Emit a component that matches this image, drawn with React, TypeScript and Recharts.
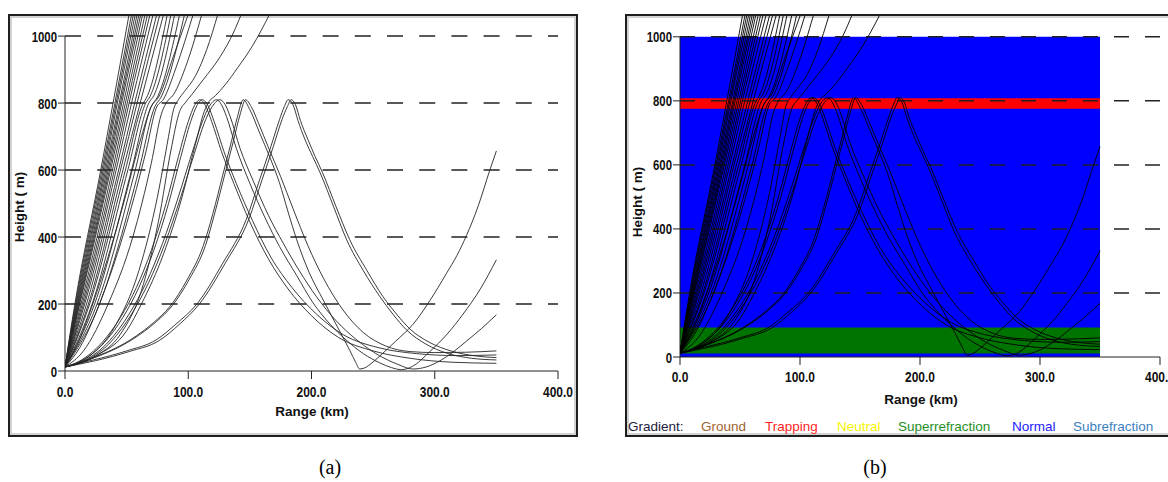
import React from "react";
import {
  LineChart,
  Line,
  XAxis,
  YAxis,
  ReferenceLine,
  ReferenceArea,
} from "recharts";

// axis ticks: height in m, range in km
const heightTicks = [0, 200, 400, 600, 800, 1000];
const gridHeights = [200, 400, 600, 800, 1000];
const rangeTicks = [0, 100, 200, 300, 400];

// refractivity layers shown in panel (b), heights in m
const layerEnd = 350;
const normalBand = [0, 1000];
const trappingBand = [775, 808];
const superBand = [11, 92];

const gradientNames = [
  "Ground",
  "Trapping",
  "Neutral",
  "Superrefraction",
  "Normal",
  "Subrefraction",
];

// rays as [range km, height m]
// steep rays that leave through the top
const steepRays = [
  [[0, 12], [8, 200], [29, 600], [39, 800], [52, 1065]],
  [[0, 12], [8.5, 200], [30, 600], [40.5, 800], [54, 1065]],
  [[0, 12], [9, 200], [31, 600], [41.5, 800], [55.5, 1065]],
  [[0, 12], [9.5, 200], [32, 600], [42.5, 800], [57, 1065]],
  [[0, 12], [10, 200], [33, 600], [44, 800], [58.5, 1065]],
  [[0, 12], [10.5, 200], [34, 600], [45, 800], [60, 1065]],
  [[0, 12], [11, 200], [35, 600], [46, 800], [61.5, 1065]],
  [[0, 12], [11.5, 200], [36, 600], [47.5, 800], [63, 1065]],
  [[0, 12], [12, 200], [37, 600], [49, 800], [65, 1065]],
  [[0, 12], [13, 200], [38.5, 600], [50.5, 800], [67, 1065]],
  [[0, 12], [14, 200], [40, 600], [52, 800], [69, 1065]],
  [[0, 12], [15, 200], [41.5, 600], [54, 800], [71.5, 1065]],
  [[0, 12], [16, 200], [43.5, 600], [56.5, 800], [74.5, 1065]],
  [[0, 12], [17.5, 200], [45, 600], [58.5, 800], [77, 1065]],
  [[0, 12], [19, 200], [47, 600], [61, 800], [80, 1065]],
];

// rays bent through the trapping layer before escaping
const bentRays = [
  [[0, 12], [20, 200], [49, 600], [63.5, 800], [66, 815], [83, 1065]],
  [[0, 12], [22, 200], [51, 600], [65.5, 800], [69, 820], [86, 1065]],
  [[0, 12], [24, 200], [54, 600], [68, 800], [72, 822], [89, 1065]],
  [[0, 12], [26, 200], [57, 600], [70, 790], [75, 818], [93, 1065]],
  [[0, 12], [28, 200], [60, 600], [73, 790], [78, 818], [97, 1065]],
  [[0, 12], [10, 80], [28, 260], [46, 480], [62, 700], [70, 790], [76, 818], [88, 940], [100, 1065]],
  [[0, 12], [12, 70], [30, 220], [50, 440], [66, 660], [74, 785], [80, 812], [90, 905], [104, 1065]],
  [[0, 12], [15, 60], [35, 200], [55, 400], [70, 620], [78, 765], [82, 800], [88, 825], [99, 920], [111, 1065]],
  [[0, 12], [20, 45], [40, 130], [60, 300], [75, 520], [84, 700], [88, 780], [92, 810], [97, 835], [106, 882], [115, 960], [124, 1065]],
  [[0, 12], [25, 45], [45, 110], [62, 240], [76, 450], [86, 660], [93, 775], [98, 803], [103, 826], [112, 869], [126, 939], [136.5, 1009], [143, 1065]],
  [[0, 12], [25, 45], [50, 120], [62, 200], [80, 350], [95, 520], [106, 680], [113, 775], [117, 805], [122, 822], [130, 855], [140, 905], [152, 970], [166, 1065]],
];

// rays trapped below the layer at ~800 m
const ductRays = [
  [[0, 12], [12, 30], [30, 85], [45, 160], [58, 250], [70, 360], [82, 500], [92, 640], [100, 745], [105, 792], [109.5, 810], [114, 792], [119, 745], [127, 655], [137, 560], [150, 445], [165, 335], [181, 245], [200, 165], [222, 100], [250, 60], [280, 38], [315, 26], [350, 23]],
  [[0, 12], [13, 30], [32, 85], [47, 160], [60, 250], [72, 360], [84, 500], [94, 640], [102, 745], [107, 792], [111.5, 810], [116, 792], [121, 745], [129, 655], [139, 560], [152, 450], [167, 340], [184, 250], [204, 170], [226, 108], [254, 70], [285, 52], [318, 46], [350, 48]],
  [[0, 12], [16, 32], [36, 90], [52, 170], [66, 265], [79, 380], [92, 520], [103, 650], [111, 740], [117, 790], [123, 810], [127, 795], [131, 760], [139, 665], [150, 560], [162, 460], [174, 372], [188, 285], [201, 205], [215, 140], [228, 93], [242, 52], [255, 25], [265, 10], [273, 4], [282, 14], [296, 58], [310, 110], [323, 170], [337, 245], [350, 332]],
  [[0, 12], [17, 32], [38, 90], [54, 170], [68, 265], [81, 380], [94, 520], [105, 650], [113, 740], [119.5, 790], [125.5, 810], [130, 795], [134, 760], [142, 665], [153, 565], [165, 465], [177, 382], [190, 300], [204, 222], [220, 150], [237, 92], [255, 46], [270, 20], [282, 6], [293, 12], [304, 30], [315, 57], [326, 90], [338, 127], [350, 168]],
  [[0, 12], [20, 36], [53, 93], [72, 145], [85, 192], [99, 272], [112, 372], [120, 470], [128, 585], [135, 685], [140, 760], [144.6, 810], [150, 780], [158, 710], [166, 640], [174, 562], [181, 475], [188, 392], [198, 295], [209.5, 212], [222, 125], [231, 62], [236, 25], [239, 6], [243, 9], [249, 24], [255.5, 45], [268, 88], [282.5, 140], [296, 210], [309.6, 292], [318, 345], [325.8, 405], [335, 490], [344.7, 600], [350, 657]],
  [[0, 12], [22, 37], [55, 95], [74, 147], [87, 195], [101, 275], [114, 375], [122, 478], [130, 592], [137, 692], [142, 765], [146.5, 810], [151, 790], [157, 740], [165, 668], [175, 580], [185, 485], [197, 375], [210, 275], [225, 185], [242, 115], [260, 75], [280, 58], [300, 55], [325, 56], [350, 60]],
  [[0, 12], [10, 22], [23, 33], [50, 60], [74, 93], [90, 140], [107, 200], [128, 322], [147, 452], [158, 572], [167, 670], [174, 750], [178, 790], [181, 810], [185, 795], [189, 748], [194.6, 692], [201, 640], [207, 592], [218, 490], [228.5, 392], [242, 300], [255.5, 222], [266, 170], [277, 123], [293, 80], [310, 53], [330, 38], [350, 33]],
  [[0, 12], [11, 20], [25, 31], [52, 58], [76, 90], [93, 140], [109, 200], [130, 322], [149, 452], [160, 572], [169, 670], [176, 750], [180.5, 790], [183.5, 810], [187, 795], [191, 748], [197, 692], [203, 640], [209, 592], [220, 490], [231, 392], [245, 300], [258, 222], [269, 170], [280, 125], [296, 85], [313, 60], [333, 45], [350, 40]],
];

const rays = [...steepRays, ...bentRays, ...ductRays].map((r) =>
  r.map(([x, y]) => ({ x, y }))
);

const FONT = "'Liberation Sans', Arial, sans-serif";
const INK = "#111";

const legendColors = ["#a0642e", "#ff1f1f", "#f5f500", "#1f8f1f", "#2323ff", "#3b7fbf"];
const legendX = [701, 765, 837, 898, 1012, 1073];

function HeightTick(props: any) {
  const { x, y, payload } = props;
  return (
    <g transform={`translate(${x},${y})`}>
      <text
        transform="scale(0.76,1)"
        textAnchor="end"
        dy={5.5}
        fontFamily={FONT}
        fontWeight="bold"
        fontSize={15}
        fill={INK}
      >
        {payload.value}
      </text>
    </g>
  );
}

function RangeTick(props: any) {
  const { x, y, payload, dy } = props;
  return (
    <g transform={`translate(${x},${y})`}>
      <text
        transform="scale(0.8,1)"
        textAnchor="middle"
        dy={dy}
        fontFamily={FONT}
        fontWeight="bold"
        fontSize={15}
        fill={INK}
      >
        {Number(payload.value).toFixed(1)}
      </text>
    </g>
  );
}

type PanelProps = {
  left: number;
  width: number;
  height: number;
  margin: { top: number; right: number; bottom: number; left: number };
  yMax: number;
  dash: string;
  ink: string;
  labelDy: number;
  shaded?: boolean;
};

function RayPanel(p: PanelProps) {
  return (
    <div style={{ position: "absolute", left: p.left, top: 0 }}>
      <LineChart width={p.width} height={p.height} margin={p.margin}>
        <XAxis
          type="number"
          dataKey="x"
          domain={[0, 400]}
          ticks={rangeTicks}
          interval={0}
          allowDataOverflow
          height={1}
          tickSize={8}
          tickMargin={0}
          stroke="#222"
          tick={(t: any) => <RangeTick {...t} dy={p.labelDy} />}
        />
        <YAxis
          type="number"
          dataKey="y"
          domain={[0, p.yMax]}
          ticks={heightTicks}
          interval={0}
          allowDataOverflow
          width={1}
          tickSize={7}
          tickMargin={1}
          axisLine={false}
          stroke="#222"
          tick={(t: any) => <HeightTick {...t} />}
        />
        {p.shaded
          ? [
              <ReferenceArea
                key="normal"
                x1={0}
                x2={layerEnd}
                y1={normalBand[0]}
                y2={normalBand[1]}
                fill="#0000ff"
                fillOpacity={1}
                stroke="none"
              />,
              <ReferenceArea
                key="trap"
                x1={0}
                x2={layerEnd}
                y1={trappingBand[0]}
                y2={trappingBand[1]}
                fill="#ff0000"
                fillOpacity={1}
                stroke="none"
              />,
              <ReferenceArea
                key="super"
                x1={0}
                x2={layerEnd}
                y1={superBand[0]}
                y2={superBand[1]}
                fill="#007400"
                fillOpacity={1}
                stroke="none"
              />,
            ]
          : null}
        {gridHeights.map((h) => (
          <ReferenceLine
            key={h}
            y={h}
            stroke="#222"
            strokeWidth={1.5}
            strokeDasharray={p.dash}
          />
        ))}
        <ReferenceLine
          segment={[
            { x: 0, y: 0 },
            { x: 0, y: 1000 },
          ]}
          stroke="#222"
        />
        {rays.map((r, i) => (
          <Line
            key={i}
            data={r}
            dataKey="y"
            type="monotone"
            stroke={p.ink}
            strokeWidth={0.9}
            dot={false}
            activeDot={false}
            isAnimationActive={false}
          />
        ))}
      </LineChart>
    </div>
  );
}

const frame: React.CSSProperties = {
  position: "absolute",
  top: 14,
  height: 423,
  boxSizing: "border-box",
  border: "2px solid #1e1e1e",
  boxShadow: "inset 0 0 0 2px #d2d2d2",
  background: "#fff",
};

export default function App() {
  return (
    <div
      style={{
        position: "absolute",
        left: 0,
        top: 0,
        width: 1168,
        height: 482,
        overflow: "hidden",
        background: "#fff",
      }}
    >
      <div style={{ ...frame, left: 8, width: 570 }} />
      <div style={{ ...frame, left: 625, width: 580 }} />

      <RayPanel
        left={0}
        width={600}
        height={440}
        margin={{ top: 16, right: 42, bottom: 68, left: 64 }}
        yMax={1060}
        dash="16 16.2"
        ink="#262626"
        labelDy={18}
      />
      <RayPanel
        left={600}
        width={568}
        height={440}
        margin={{ top: 16, right: 8, bottom: 82, left: 79 }}
        yMax={1065}
        dash="15 16"
        ink="#000"
        labelDy={17}
        shaded
      />

      <svg
        width={1168}
        height={482}
        style={{ position: "absolute", left: 0, top: 0, pointerEvents: "none" }}
      >
        <g fontFamily={FONT} fontWeight="bold" fontSize={13.5} fill={INK}>
          <text x={312} y={416} textAnchor="middle">
            Range (km)
          </text>
          <text x={24} y={207} textAnchor="middle" transform="rotate(-90 24 207)">
            Height ( m)
          </text>
          <text x={921} y={404} textAnchor="middle">
            Range (km)
          </text>
          <text x={642} y={202} textAnchor="middle" transform="rotate(-90 642 202)">
            Height ( m)
          </text>
        </g>
        <g fontFamily={FONT} fontSize={13.5}>
          <text x={628} y={431} fill="#1c1c3c">
            Gradient:
          </text>
          {gradientNames.map((n, i) => (
            <text key={n} x={legendX[i]} y={431} fill={legendColors[i]}>
              {n}
            </text>
          ))}
        </g>
        <g fontFamily="'Liberation Serif', 'Times New Roman', serif" fontSize={20} fill="#000">
          <text x={330} y={474} textAnchor="middle">
            (a)
          </text>
          <text x={875} y={474} textAnchor="middle">
            (b)
          </text>
        </g>
      </svg>
    </div>
  );
}
